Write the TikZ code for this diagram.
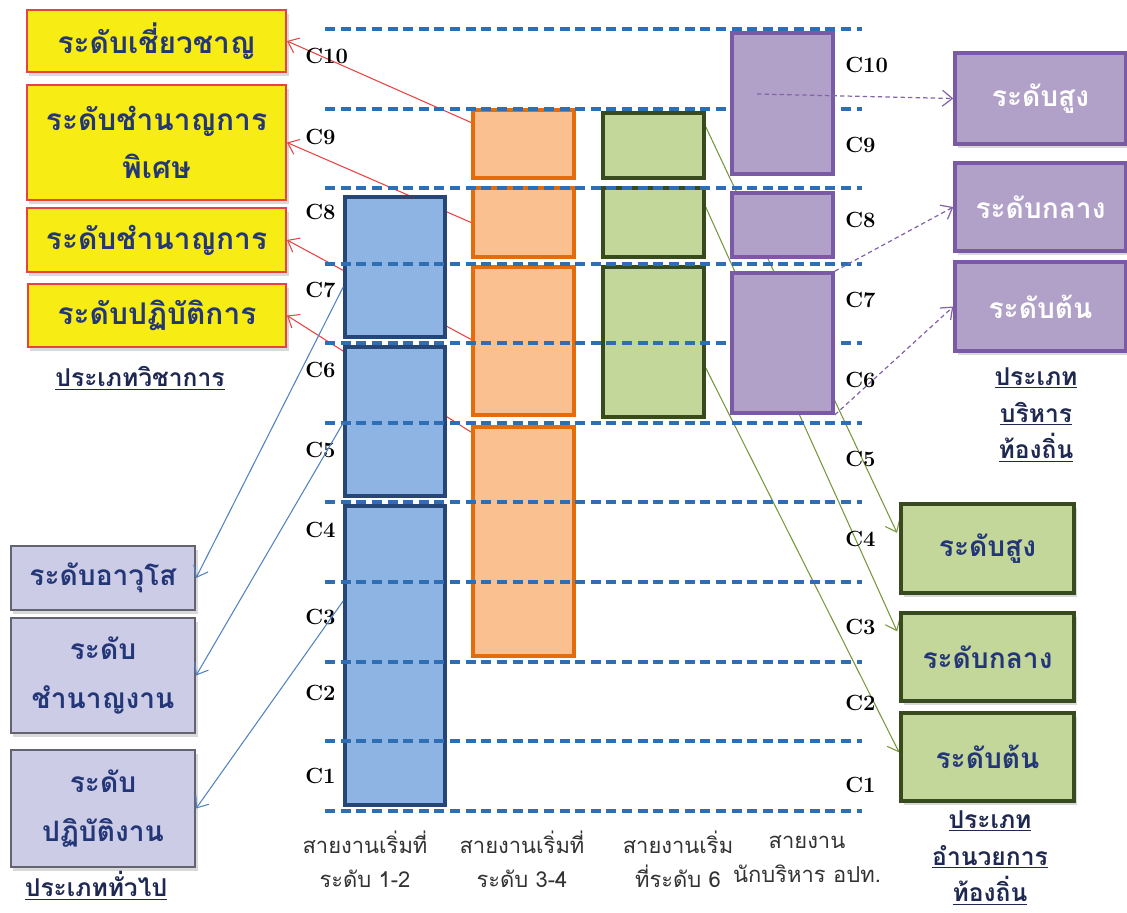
\documentclass[tikz,border=0pt]{standalone}
\usepackage{fontspec}
\newfontfamily\thai[Script=Thai]{Loma}
\usetikzlibrary{fit,calc,arrows.meta,shadows}
\definecolor{ybfill}{RGB}{247,236,20}
\definecolor{redline}{RGB}{232,66,66}
\definecolor{lavfill}{RGB}{205,204,230}
\definecolor{lavedge}{RGB}{100,100,112}
\definecolor{bluefill}{RGB}{141,180,226}
\definecolor{blueedge}{RGB}{38,70,120}
\definecolor{orgfill}{RGB}{250,192,144}
\definecolor{orgedge}{RGB}{228,108,10}
\definecolor{grnfill}{RGB}{196,215,155}
\definecolor{grnedge}{RGB}{55,75,30}
\definecolor{purfill}{RGB}{177,160,199}
\definecolor{puredge}{RGB}{122,90,165}
\definecolor{dashblue}{RGB}{46,110,180}
\definecolor{navy}{RGB}{35,55,120}
\definecolor{catnavy}{RGB}{30,40,80}
\definecolor{bluearr}{RGB}{80,130,195}
\definecolor{grnarr}{RGB}{120,150,60}
\definecolor{purarr}{RGB}{130,100,170}
\pgfdeclarelayer{bg}
\pgfsetlayers{bg,main}

\begin{document}
\begin{tikzpicture}[x=0.02cm,y=-0.02cm,
    bluecol/.style={draw=blueedge,fill=bluefill,line width=2.1pt,inner sep=0pt},
    orgcol/.style={draw=orgedge,fill=orgfill,line width=2.1pt,inner sep=0pt},
    grncol/.style={draw=grnedge,fill=grnfill,line width=2.1pt,inner sep=0pt},
    purcol/.style={draw=puredge,fill=purfill,line width=2.1pt,inner sep=0pt},
    shade/.style={drop shadow={opacity=0.3,shadow xshift=0.5mm,shadow yshift=-0.7mm}},
    ybox/.style={shade,draw=redline,fill=ybfill,line width=1.1pt,inner sep=0pt},
    lbox/.style={shade,draw=lavedge,fill=lavfill,line width=1.2pt,inner sep=0pt},
    pbox/.style={shade,draw=puredge,fill=purfill,line width=1.9pt,inner sep=0pt},
    gbox/.style={shade,draw=grnedge,fill=grnfill,line width=2.1pt,inner sep=0pt},
    ytxt/.style={align=center,text=navy,font=\thai\bfseries\fontsize{17}{27}\selectfont},
    ltxt/.style={align=center,text=navy,font=\thai\bfseries\fontsize{16}{28}\selectfont},
    ptxt/.style={align=center,text=white,font=\thai\bfseries\fontsize{16}{24}\selectfont},
    gtxt/.style={align=center,text=navy,font=\thai\bfseries\fontsize{16}{24}\selectfont},
    lvl/.style={anchor=west,inner sep=0pt,font=\bfseries\fontsize{12.5}{14}\selectfont},
    grid/.style={draw=dashblue,line width=1.8pt,dash pattern=on 5.7pt off 3.2pt},
    cat/.style={align=center,text=catnavy,font=\thai\bfseries\fontsize{14}{21}\selectfont},
    foot/.style={align=center,text=black!80,font=\thai\fontsize{12.5}{19.4}\selectfont},
    redarr/.style={draw=redline,line width=0.6pt,-{Straight Barb[length=2mm,width=3.2mm]}},
    bluarr/.style={draw=bluearr,line width=0.6pt,-{Straight Barb[length=2mm,width=3.2mm]}},
    grnarr/.style={draw=grnarr,line width=0.6pt,-{Straight Barb[length=2mm,width=3.2mm]}},
    purarr/.style={draw=purarr,line width=0.7pt,dash pattern=on 2.5pt off 1.8pt,
        -{Straight Barb[length=2mm,width=3.2mm]}}]
    %%%%% START %%%%%
    \useasboundingbox (0,0) rectangle (1127,913);

    % columns of grades
    \node[bluecol,fit={(345,197) (445,337)}] (b1) {};
    \node[bluecol,fit={(345,347) (445,496)}] (b2) {};
    \node[bluecol,fit={(345,506) (445,805)}] (b3) {};

    \node[orgcol,fit={(473,110) (574,178)}] (o1) {};
    \node[orgcol,fit={(473,188) (574,257)}] (o2) {};
    \node[orgcol,fit={(473,267) (574,415)}] (o3) {};
    \node[orgcol,fit={(473,427) (574,656)}] (o4) {};

    \node[grncol,fit={(603,113) (704,178)}] (g1) {};
    \node[grncol,fit={(603,188) (704,257)}] (g2) {};
    \node[grncol,fit={(603,267) (704,417)}] (g3) {};

    % level lines
    \foreach \yy in {29,109,188,264,343,423,502,582,662,741,811}
        \draw[grid] (325,\yy) -- (862,\yy);

    \node[purcol,fit={(732,33) (833,174)}] (p1) {};
    \node[purcol,fit={(732,193) (833,257)}] (p2) {};
    \node[purcol,fit={(732,273) (833,413)}] (p3) {};

    \foreach \lab/\yy in {10/56,9/137,8/212,7/290,6/370,5/450,4/530,3/617,2/693,1/776}
        \node[lvl] (cl\lab) at (305,\yy) {C\lab};
    \foreach \lab/\yy in {10/65,9/145,8/220,7/300,6/380,5/459,4/539,3/627,2/703,1/785}
        \node[lvl] (cr\lab) at (845,\yy) {C\lab};

    % position boxes
    \node[ybox,fit={(27,10) (286,72)}] (wk1) {};
    \node[ybox,fit={(27,85) (286,200)}] (wk2) {};
    \node[ybox,fit={(27,208) (286,272)}] (wk3) {};
    \node[ybox,fit={(28,284) (286,347)}] (wk4) {};
    \node[ytxt] at (wk1) {ระดับเชี่ยวชาญ};
    \node[ytxt] at (wk2) {ระดับชำนาญการ\\พิเศษ};
    \node[ytxt] at (wk3) {ระดับชำนาญการ};
    \node[ytxt] at (wk4) {ระดับปฏิบัติการ};
    \node[cat] (wkcat) at (140,378) {\underline{ประเภทวิชาการ}};

    \node[lbox,fit={(11,546) (195,610)}] (tw1) {};
    \node[lbox,fit={(11,618) (195,733)}] (tw2) {};
    \node[lbox,fit={(11,750) (195,867)}] (tw3) {};
    \node[ltxt] at (tw1) {ระดับอาวุโส};
    \node[ltxt] at (tw2) {ระดับ\\ชำนาญงาน};
    \node[ltxt] at (tw3) {ระดับ\\ปฏิบัติงาน};
    \node[cat] (twcat) at (96,886) {\underline{ประเภททั่วไป}};

    \node[pbox,fit={(955,53) (1126,144)}] (bh1) {};
    \node[pbox,fit={(955,163) (1126,251)}] (bh2) {};
    \node[pbox,fit={(955,262) (1126,351)}] (bh3) {};
    \node[ptxt] at (bh1) {ระดับสูง};
    \node[ptxt] at (bh2) {ระดับกลาง};
    \node[ptxt] at (bh3) {ระดับต้น};
    \node[cat] (bhcat) at (1036,415) {\underline{ประเภท}\\\underline{บริหาร}\\\underline{ท้องถิ่น}};

    \node[gbox,fit={(901,504) (1074,593)}] (aw1) {};
    \node[gbox,fit={(901,613) (1074,701)}] (aw2) {};
    \node[gbox,fit={(901,713) (1074,801)}] (aw3) {};
    \node[gtxt] at (aw1) {ระดับสูง};
    \node[gtxt] at (aw2) {ระดับกลาง};
    \node[gtxt] at (aw3) {ระดับต้น};
    \node[cat] (awcat) at (990,858) {\underline{ประเภท}\\\underline{อำนวยการ}\\\underline{ท้องถิ่น}};

    \node[foot] (f1) at (365,859) {สายงานเริ่มที่\\ระดับ 1-2};
    \node[foot] (f2) at (522,859) {สายงานเริ่มที่\\ระดับ 3-4};
    \node[foot] (f3) at (678,859) {สายงานเริ่ม\\ที่ระดับ 6};
    \node[foot] (f4) at (807,859) {สายงาน\\นักบริหาร อปท.};

    % arrows
    \begin{pgfonlayer}{bg}
        \draw[redarr] ($(o1.north west)!0.2!(o1.south west)$) -- (wk1.east);
        \draw[redarr] ($(o2.north west)!0.5!(o2.south west)$) -- (wk2.east);
        \draw[redarr] ($(o3.north west)!0.49!(o3.south west)$) -- (wk3.east);
        \draw[redarr] ($(o4.north west)!0.03!(o4.south west)$) -- (wk4.east);

        \draw[grnarr,shorten >=1mm] ($(g1.north east)!0.23!(g1.south east)$) -- ($(aw1.north west)!0.38!(aw1.south west)$);
        \draw[grnarr,shorten >=1mm] ($(g2.north east)!0.29!(g2.south east)$) -- ($(aw2.north west)!0.27!(aw2.south west)$);
        \draw[grnarr] ($(g3.north east)!0.67!(g3.south east)$) -- ($(aw3.north west)!0.45!(aw3.south west)$);
    \end{pgfonlayer}

    \draw[bluarr] ($(b1.north west)!0.64!(b1.south west)$) -- (tw1.east);
    \draw[bluarr] ($(b2.north west)!0.51!(b2.south west)$) -- (tw2.east);
    \draw[bluarr] ($(b3.north west)!0.32!(b3.south west)$) -- (tw3.east);

    \coordinate (pstart) at (757,94);
    \draw[purarr] (pstart) -- (bh1.west);
    \draw[purarr] (p3.north east) -- (bh2.west);
    \draw[purarr] (p3.south east) -- (bh3.west);
    %%%%% END %%%%%
\end{tikzpicture}
\end{document}
